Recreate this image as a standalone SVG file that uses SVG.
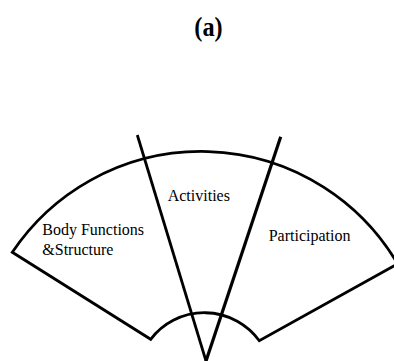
<svg xmlns="http://www.w3.org/2000/svg" width="394" height="361" viewBox="0 0 394 361">
<style>
.ln{fill:none;stroke:#000;stroke-width:2.8;stroke-linejoin:miter;stroke-linecap:butt}
.lbl{font-family:"Liberation Serif","Times New Roman",serif;font-size:16px;fill:#000}
.ttl{font-family:"Liberation Serif","Times New Roman",serif;font-size:27px;font-weight:bold;fill:#000}
</style>
<rect width="394" height="361" fill="#fff"/>
<text class="ttl" x="208.5" y="36" text-anchor="middle" transform="translate(208.5 0) scale(0.9 1) translate(-208.5 0)">(a)</text>
<g id="sector">
<path class="ln" d="M12.3,252.3 A227.6,227.6 0 0 1 397.6,263.8 L259.3,340.7 A67.7,67.7 0 0 0 150.7,339.3 Z"/>
</g>
<g id="connectors">
<line class="ln" x1="137.3" y1="135" x2="206" y2="361" stroke-width="2.6"/>
<line class="ln" x1="280.7" y1="136.7" x2="206" y2="361" style="stroke-width:3.2"/>
</g>
<g id="body-functions">
<text class="lbl" x="42.3" y="234.5">Body Functions</text>
<text class="lbl" x="42.3" y="255">&amp;Structure</text>
</g>
<g id="activities">
<text class="lbl" x="167.7" y="200.7">Activities</text>
</g>
<g id="participation">
<text class="lbl" x="268.7" y="240.5">Participation</text>
</g>
</svg>
